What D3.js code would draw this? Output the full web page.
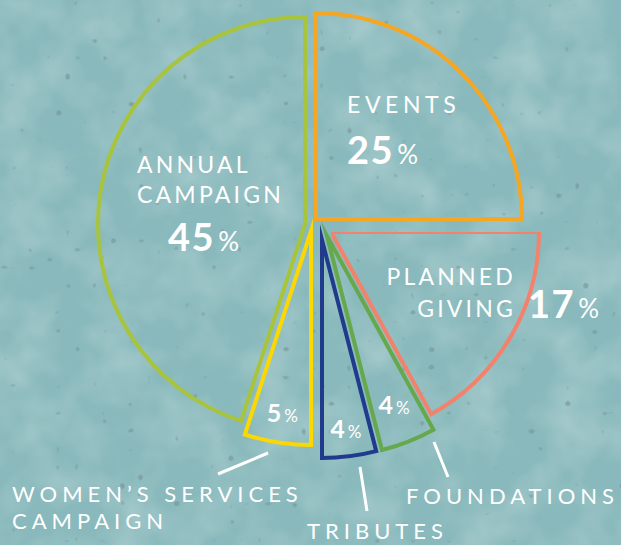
<!DOCTYPE html>
<html><head><meta charset="utf-8">
<script src="https://cdn.jsdelivr.net/npm/d3@7"></script>
<style>html,body{margin:0;padding:0;background:#8dbcc0;overflow:hidden} svg{display:block}</style>
</head><body>
<script>
// ---- data ----
const categories = ["Events", "Planned Giving", "Foundations", "Tributes", "Women's Services Campaign", "Annual Campaign"];
const values = [25, 17, 4, 4, 5, 45];
const labelLines = [["EVENTS"], ["PLANNED", "GIVING"], ["FOUNDATIONS"], ["TRIBUTES"], ["WOMEN\u2019S SERVICES", "CAMPAIGN"], ["ANNUAL", "CAMPAIGN"]];

// ---- style / layout ----
const colors = ["#f5a623", "#f2826c", "#66a84c", "#203a8c", "#fdd800", "#a8c43d"];
const W = 621, H = 545;
const center = {x: 311, y: 225};
const explodeOffset = [[5, -6], [20, 7], [16, 11], [11, 15], [0, 6], [-6, -1]];
const radius = [206, 208, 221, 218, 214, 207];
const FONT = "Lato, 'Open Sans', sans-serif";

const svg = d3.select("body").append("svg").attr("width", W).attr("height", H);
const defs = svg.append("defs");

// background texture
const f1 = defs.append("filter").attr("id", "mottle").attr("x", 0).attr("y", 0).attr("width", 1).attr("height", 1);
f1.append("feTurbulence").attr("type", "fractalNoise").attr("baseFrequency", 0.02).attr("numOctaves", 3).attr("seed", 7);
f1.append("feColorMatrix").attr("type", "matrix")
  .attr("values", "0 0 0 0 1  0 0 0 0 1  0 0 0 0 1  0.45 0 0 0 -0.17");
const f2 = defs.append("filter").attr("id", "specks").attr("x", 0).attr("y", 0).attr("width", 1).attr("height", 1);
f2.append("feTurbulence").attr("type", "fractalNoise").attr("baseFrequency", 0.11).attr("numOctaves", 1).attr("seed", 23);
f2.append("feColorMatrix").attr("type", "matrix")
  .attr("values", "0 0 0 0 0.18  0 0 0 0 0.3  0 0 0 0 0.32  14 0 0 0 -10.2");
f2.append("feGaussianBlur").attr("stdDeviation", 0.7);

svg.append("rect").attr("width", W).attr("height", H).attr("fill", "#89b9bc");
svg.append("rect").attr("width", W).attr("height", H).attr("filter", "url(#mottle)");
svg.append("rect").attr("width", W).attr("height", H).attr("filter", "url(#specks)").attr("opacity", 0.6);

// mask that opens the planned-giving arc where its value label sits
const mask = defs.append("mask").attr("id", "pgmask").attr("maskUnits", "userSpaceOnUse")
  .attr("x", 0).attr("y", 0).attr("width", W).attr("height", H);
mask.append("rect").attr("width", W).attr("height", H).attr("fill", "white");
mask.append("rect").attr("x", 498).attr("y", 254).attr("width", 123).attr("height", 86).attr("fill", "black");

const pie = d3.pie().sort(null).value(d => d).startAngle(0).endAngle(2 * Math.PI);
const arcs = pie(values);

const g = svg.append("g");
arcs.forEach((a, i) => {
  const ox = center.x + explodeOffset[i][0];
  const oy = center.y + explodeOffset[i][1];
  a.origin = [ox, oy];
  const arcGen = d3.arc().innerRadius(0).outerRadius(radius[i]);
  g.append("path")
    .attr("transform", `translate(${ox},${oy})`)
    .attr("d", arcGen(a))
    .attr("fill", "none")
    .attr("stroke", colors[i])
    .attr("stroke-width", 4)
    .attr("stroke-linejoin", "miter")
    .attr("stroke-miterlimit", 20)
    .attr("mask", i === 1 ? "url(#pgmask)" : null);
});

const T = svg.append("g").attr("fill", "#ffffff").attr("font-family", FONT);

function pct(x, y, v, big, small, anchor) {
  const t = T.append("text").attr("x", x).attr("y", y).attr("text-anchor", anchor || "start");
  t.append("tspan").text(v).attr("font-size", big).attr("font-weight", 700).attr("letter-spacing", big * 0.04);
  t.append("tspan").text("%").attr("font-size", small).attr("font-weight", 400).attr("dx", big * 0.08);
  return t;
}
function words(x, y, lines, size, anchor, lh, ls) {
  const t = T.append("text").attr("x", x).attr("y", y).attr("text-anchor", anchor || "start")
    .attr("font-size", size).attr("font-weight", 400).attr("letter-spacing", ls);
  lines.forEach((s, k) => {
    t.append("tspan").attr("x", x).attr("dy", k === 0 ? 0 : lh).text(s);
  });
}

// big slices: labels inside
words(137, 173, labelLines[5], 23, "start", 30, 3.2);
pct(168, 251, values[5], 38, 26);
words(347, 113, labelLines[0], 23, "start", 30, 4.6);
pct(347, 164, values[0], 38, 26);
words(516, 285, labelLines[1], 23, "end", 32, 3.2);
pct(528, 318, values[1], 38, 26);

// small slices: values at the slice centroids
[[2, 182], [3, 190], [4, 184]].forEach(([i, d]) => {
  const a = arcs[i];
  const mid = (a.startAngle + a.endAngle) / 2;
  const cx = a.origin[0] + d * Math.sin(mid);
  const cy = a.origin[1] - d * Math.cos(mid);
  pct(cx, cy + 9, values[i], 25, 17, "middle");
});

// outside labels with leader lines
const leaders = [
  {i: 4, line: [[268, 453], [218, 474]], x: 12, y: 502},
  {i: 3, line: [[360, 467], [367, 511]], x: 307, y: 539},
  {i: 2, line: [[434, 442], [448, 477]], x: 406, y: 504}
];
leaders.forEach(L => {
  svg.append("line").attr("x1", L.line[0][0]).attr("y1", L.line[0][1])
    .attr("x2", L.line[1][0]).attr("y2", L.line[1][1])
    .attr("stroke", "#ffffff").attr("stroke-width", 3);
  words(L.x, L.y, labelLines[L.i], 22, "start", 27, 5.0);
});
</script>
</body></html>
